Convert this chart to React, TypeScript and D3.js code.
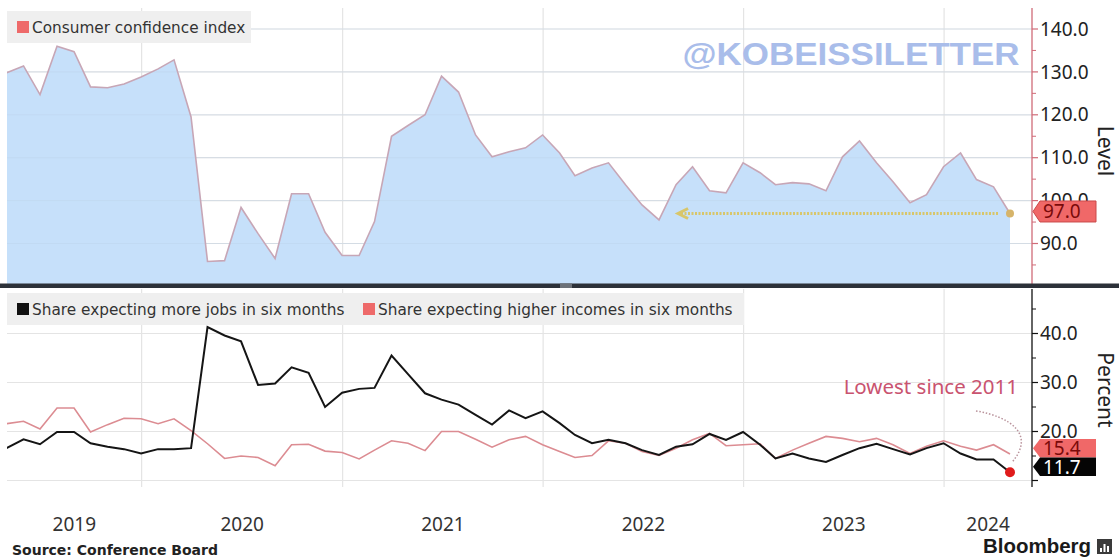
import React from 'react';
import * as d3 from 'd3';

// Monthly values, April 2019 .. April 2024 (plotted at month end)
const confidence = [
  129.8, 131.4, 124.7, 136.0, 134.7, 126.5, 126.3, 127.2, 128.8,
  130.7, 132.8, 119.5, 85.8, 86.0, 98.4, 92.3, 86.5, 101.6, 101.6, 92.6, 87.2,
  87.2, 95.1, 115.0, 117.5, 120.0, 129.0, 125.3, 115.3, 110.2, 111.4, 112.3, 115.3,
  111.1, 105.8, 107.6, 108.8, 103.7, 99.0, 95.5, 103.7, 107.9, 102.3, 101.8, 108.8,
  106.5, 103.7, 104.2, 103.9, 102.3, 110.2, 113.9, 108.8, 104.4, 99.5, 101.4, 107.9,
  111.1, 104.9, 103.2, 97.0,
];
const jobs = [
  16.6, 18.4, 17.4, 19.9, 19.9, 17.6, 16.9, 16.4, 15.5,
  16.4, 16.4, 16.6, 41.3, 39.6, 38.4, 29.5, 29.8, 33.1, 32.0, 25.0, 27.9,
  28.7, 28.9, 35.5, 31.7, 27.8, 26.5, 25.5, 23.4, 21.4, 24.3, 22.7, 24.1,
  21.7, 19.3, 17.6, 18.3, 17.6, 16.2, 15.2, 16.9, 17.4, 19.5, 18.3, 19.9,
  17.3, 14.5, 15.5, 14.5, 13.8, 15.2, 16.6, 17.5, 16.4, 15.3, 16.6, 17.6,
  15.5, 14.3, 14.3, 11.7,
];
const incomes = [
  21.6, 22.1, 20.5, 24.8, 24.8, 19.9, 21.4, 22.7, 22.6,
  21.6, 22.6, 20.2, 17.5, 14.5, 15.0, 14.7, 13.0, 17.3, 17.4, 16.0, 15.7,
  14.4, 16.2, 18.1, 17.6, 16.1, 20.0, 20.0, 18.4, 16.8, 18.3, 19.0, 17.3,
  15.9, 14.7, 15.1, 18.1, 17.6, 15.9, 15.1, 16.6, 18.3, 19.6, 17.1, 17.3,
  17.5, 14.5, 16.2, 17.6, 19.0, 18.6, 17.9, 18.6, 17.3, 15.5, 17.0, 18.1,
  17.0, 16.2, 17.3, 15.4,
];
const topTicks = [90, 100, 110, 120, 130, 140];
const topMinor = [85, 95, 105, 115, 125, 135];
const botTicks = [10, 20, 30, 40];
const botLabels = [20, 30, 40];
const botMinor = [15, 25, 35, 45];
const years = [2019, 2020, 2021, 2022, 2023, 2024];
const legendTop = ['Consumer confidence index'];
const legendBottom = ['Share expecting more jobs in six months', 'Share expecting higher incomes in six months'];

const dates = confidence.map((_, i) => new Date(2019, 3 + i + 1, 0));

const W = 1119, H = 558;
const PL = 7, PR = 1032;
const T0 = 8, T1 = 284;
const B0 = 289, B1 = 487;

export default function App() {
  const x = d3.scaleTime().domain([dates[0], dates[dates.length - 1]]).range([6.5, 1010]);
  const yT = d3.scaleLinear().domain([90, 140]).range([243.5, 29]);
  const yB = d3.scaleLinear().domain([20, 40]).range([431.5, 333.5]);

  const topPts = dates.map((d, i) => ({ d, v: confidence[i] }));
  const area = d3.area<any>().x(p => x(p.d)).y0(T1).y1(p => yT(p.v))(topPts) || '';
  const topLine = d3.line<any>().x(p => x(p.d)).y(p => yT(p.v))(topPts) || '';
  const jobsLine = d3.line<number>().x((_, i) => x(dates[i])).y(v => yB(v))(jobs) || '';
  const incLine = d3.line<number>().x((_, i) => x(dates[i])).y(v => yB(v))(incomes) || '';

  const yearStarts = years.slice(1).map(y => x(new Date(y, 0, 1)));
  const yearCenters = years.map((y, i) => {
    const a = i === 0 ? PL : yearStarts[i - 1];
    const b = i === years.length - 1 ? PR : yearStarts[i];
    return (a + b) / 2;
  });

  const last = dates.length - 1;
  const lx = x(dates[last]);
  const ly97 = yT(confidence[last]);
  const arrowX = x(new Date(2022, 7, 31));

  const tag = (yc: number, h: number) => {
    const x0 = 1033, xb = 1040, x1 = 1096;
    return `M${x0},${yc} L${xb},${yc - h / 2} L${x1},${yc - h / 2} L${x1},${yc + h / 2} L${xb},${yc + h / 2} Z`;
  };

  const jobsY = yB(jobs[last]);
  const blackC = jobsY - 5.5;
  const redC = blackC - 18.5;

  const tickFont = { fontFamily: 'Noto Sans, sans-serif', fontSize: 19 };
  const legFont = { fontFamily: 'DejaVu Sans, sans-serif', fontSize: 15.3 };

  return (
    <div style={{ position: 'absolute', left: 0, top: 0 }}>
      <svg width={W} height={H} viewBox={`0 0 ${W} ${H}`} style={{ display: 'block', background: '#fff' }}>
        <defs>
          <clipPath id="clipTop"><rect x={PL} y={T0} width={PR - PL} height={T1 - T0} /></clipPath>
          <clipPath id="clipBot"><rect x={PL} y={B0} width={PR - PL} height={B1 - B0} /></clipPath>
        </defs>
        <rect x={0} y={0} width={W} height={H} fill="#fff" />

        {/* ---------- TOP PANEL ---------- */}
        <g clipPath="url(#clipTop)">
          {topTicks.map(t => (
            <line key={t} x1={PL} x2={PR} y1={yT(t)} y2={yT(t)} stroke="#e4e4e4" strokeWidth={1.2} />
          ))}
          {yearStarts.map((xs, i) => (
            <line key={i} x1={xs} x2={xs} y1={T0} y2={T1} stroke="#e4e4e4" strokeWidth={1.2} />
          ))}
          <path d={area} fill="#c6e0fa" />
          {topTicks.map(t => (
            <line key={'o' + t} x1={PL} x2={PR} y1={yT(t)} y2={yT(t)} stroke="#b8cfe6" strokeOpacity={0.35} strokeWidth={1} />
          ))}
          <path d={topLine} fill="none" stroke="#c7a6b6" strokeWidth={1.6} />
        </g>

        {/* watermark */}
        <text x={851} y={65} textAnchor="middle" fontFamily="Liberation Sans, Arial, sans-serif" fontWeight="bold"
          fontSize={31} fill="#a9bdea" textLength={337} lengthAdjust="spacingAndGlyphs">@KOBEISSILETTER</text>

        {/* top legend */}
        <rect x={7} y={11} width={244} height={32} fill="#efefef" />
        <rect x={17} y={21} width={12} height={12} fill="#ee6a6a" />
        <text x={32} y={33} {...legFont} fill="#333">{legendTop[0]}</text>

        {/* yellow arrow */}
        <line x1={lx - 12} x2={arrowX + 4} y1={ly97} y2={ly97} stroke="#d8c66a" strokeWidth={3} strokeDasharray="2,1.5" />
        <path d={`M${arrowX + 12},${ly97 - 5} L${arrowX + 2},${ly97} L${arrowX + 12},${ly97 + 5}`} fill="none" stroke="#d8c66a" strokeWidth={3} />
        <circle cx={lx} cy={ly97} r={4} fill="#d6b46a" />

        {/* top axis */}
        <line x1={PR} x2={PR} y1={T0} y2={T1} stroke="#d06b78" strokeWidth={1.3} />
        {topMinor.map(t => (
          <line key={t} x1={PR} x2={PR + 4} y1={yT(t)} y2={yT(t)} stroke="#d06b78" strokeWidth={1} />
        ))}
        {topTicks.map(t => (
          <g key={t}>
            <line x1={PR} x2={PR + 6} y1={yT(t)} y2={yT(t)} stroke="#d06b78" strokeWidth={1.2} />
            <text x={PR + 8} y={yT(t)} dy="0.35em" {...tickFont} fill="#222">{t.toFixed(1)}</text>
          </g>
        ))}
        <path d={tag(ly97 - 2, 21)} fill="#f06868" stroke="#c94a4a" strokeWidth={1} />
        <text x={1043} y={ly97 - 2} dy="0.36em" {...tickFont} fill="#7a0a0a">{confidence[last].toFixed(1)}</text>
        <text transform={`translate(1098,${(T0 + T1) / 2 + 5}) rotate(90)`} textAnchor="middle"
          fontFamily="Noto Sans, sans-serif" fontSize={21} fill="#222">Level</text>

        {/* separator */}
        <rect x={0} y={283.5} width={W} height={4.5} fill="#2c3139" />
        <rect x={560} y={283.5} width={12} height={4.5} fill="#6c7178" />

        {/* ---------- BOTTOM PANEL ---------- */}
        <g clipPath="url(#clipBot)">
          {botTicks.map(t => (
            <line key={t} x1={PL} x2={PR} y1={yB(t)} y2={yB(t)} stroke="#e4e4e4" strokeWidth={1.2} />
          ))}
          {yearStarts.map((xs, i) => (
            <line key={i} x1={xs} x2={xs} y1={B0} y2={B1} stroke="#e4e4e4" strokeWidth={1.2} />
          ))}
          <path d={incLine} fill="none" stroke="#dc8c92" strokeWidth={1.6} />
          <path d={jobsLine} fill="none" stroke="#151515" strokeWidth={2} />
        </g>

        {/* bottom legend */}
        <rect x={7} y={293} width={737} height={32} fill="#efefef" />
        <rect x={17} y={303} width={12} height={12} fill="#111" />
        <text x={32} y={315} {...legFont} fill="#333">{legendBottom[0]}</text>
        <rect x={363} y={303} width={12} height={12} fill="#ee6a6a" />
        <text x={378} y={315} {...legFont} fill="#333">{legendBottom[1]}</text>

        {/* annotation */}
        <text x={1018} y={394} textAnchor="end" fontFamily="Noto Sans, sans-serif" fontSize={20.5} fill="#c9536f">Lowest since 2011</text>
        <path d={`M${lx - 34},${yB(24.2)} C${lx},${yB(23)} ${lx + 26},${yB(19.5)} ${lx + 2},${yB(13.7)}`}
          fill="none" stroke="#b9939c" strokeWidth={1.5} strokeDasharray="1.5,1.8" />
        <circle cx={lx} cy={jobsY} r={5} fill="#e01b1b" />

        {/* bottom axis */}
        <line x1={PR} x2={PR} y1={B0} y2={B1} stroke="#111" strokeWidth={1.3} />
        {botMinor.map(t => (
          <line key={t} x1={PR} x2={PR + 4} y1={yB(t)} y2={yB(t)} stroke="#111" strokeWidth={1} />
        ))}
        {botTicks.map(t => (
          <line key={t} x1={PR} x2={PR + 6} y1={yB(t)} y2={yB(t)} stroke="#111" strokeWidth={1.2} />
        ))}
        {botLabels.map(t => (
          <text key={t} x={PR + 8} y={yB(t)} dy="0.35em" {...tickFont} fill="#222">{t.toFixed(1)}</text>
        ))}
        <path d={tag(redC, 18.5)} fill="#f06868" />
        <text x={1043} y={redC} dy="0.38em" {...tickFont} fill="#7a0a0a">{incomes[last].toFixed(1)}</text>
        <path d={tag(blackC, 18.5)} fill="#050505" />
        <text x={1043} y={blackC} dy="0.38em" {...tickFont} fill="#fff">{jobs[last].toFixed(1)}</text>
        <text transform={`translate(1098,${390}) rotate(90)`} textAnchor="middle"
          fontFamily="Noto Sans, sans-serif" fontSize={21} fill="#222">Percent</text>

        {/* x axis labels */}
        {years.map((y, i) => (
          <text key={y} x={yearCenters[i]} y={531} textAnchor="middle" fontFamily="Noto Sans, sans-serif" fontSize={19} fill="#333">{y}</text>
        ))}

        {/* footer */}
        <text x={12} y={555} fontFamily="DejaVu Sans, sans-serif" fontWeight="bold" fontSize={14} fill="#222">Source: Conference Board</text>
        <text x={983} y={553} fontFamily="Liberation Sans, Arial, sans-serif" fontWeight="bold" fontSize={20} fill="#1a1a1a"
          textLength={108} lengthAdjust="spacingAndGlyphs">Bloomberg</text>
        <rect x={1097} y={539} width={15} height={15} fill="#3a3a3a" />
        <rect x={1100} y={548} width={2} height={4} fill="#fff" />
        <rect x={1103.5} y={544} width={2} height={8} fill="#fff" />
        <rect x={1107} y={546} width={2} height={6} fill="#fff" />
      </svg>
    </div>
  );
}
